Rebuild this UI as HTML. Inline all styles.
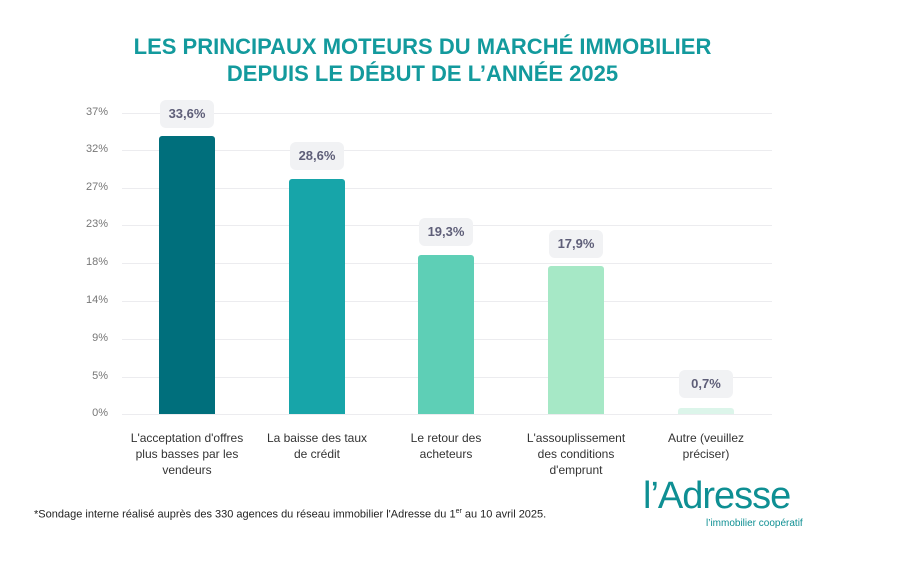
<!DOCTYPE html>
<html><head><meta charset="utf-8"><style>
body{margin:0;width:901px;height:571px;background:#fff;position:relative;font-family:"Liberation Sans",sans-serif;overflow:hidden}
.t{position:absolute;left:0;width:845px;text-align:center;color:#139a9d;font-weight:bold;font-size:22px;line-height:27px}
.g{position:absolute;left:122px;width:650px;height:1px;background:#ececef}
.y{position:absolute;left:80px;width:28px;text-align:right;font-size:11px;color:#777;}
.b{position:absolute;width:56px;border-radius:3px 3px 0 0}
.l{position:absolute;width:54px;height:28px;background:#f1f2f4;border-radius:6px;font-size:13px;font-weight:bold;color:#5e5e78;text-align:center;line-height:28px}
.x{position:absolute;width:130px;text-align:center;font-size:12px;color:#333;line-height:16px}
</style></head><body>
<div class="t" style="top:33px">LES PRINCIPAUX MOTEURS DU MARCHÉ IMMOBILIER</div>
<div class="t" style="top:60px">DEPUIS LE DÉBUT DE L’ANNÉE 2025</div>

<div class="g" style="top:113px"></div><div class="y" style="top:106px">37%</div>
<div class="g" style="top:150px"></div><div class="y" style="top:143px">32%</div>
<div class="g" style="top:188px"></div><div class="y" style="top:181px">27%</div>
<div class="g" style="top:225px"></div><div class="y" style="top:218px">23%</div>
<div class="g" style="top:263px"></div><div class="y" style="top:256px">18%</div>
<div class="g" style="top:301px"></div><div class="y" style="top:294px">14%</div>
<div class="g" style="top:339px"></div><div class="y" style="top:332px">9%</div>
<div class="g" style="top:377px"></div><div class="y" style="top:370px">5%</div>
<div class="g" style="top:414px"></div><div class="y" style="top:407px">0%</div>

<div class="b" style="left:159px;top:136px;height:278px;background:#006f7c"></div>
<div class="b" style="left:289px;top:179px;height:235px;background:#17a5a9"></div>
<div class="b" style="left:418px;top:255px;height:159px;background:#5ecfb6"></div>
<div class="b" style="left:548px;top:266px;height:148px;background:#a6e8c6"></div>
<div class="b" style="left:678px;top:408px;height:6px;background:#dcf5ea"></div>

<div class="l" style="left:160px;top:100px">33,6%</div>
<div class="l" style="left:290px;top:142px">28,6%</div>
<div class="l" style="left:419px;top:218px">19,3%</div>
<div class="l" style="left:549px;top:230px">17,9%</div>
<div class="l" style="left:679px;top:370px">0,7%</div>

<div class="x" style="left:122px;top:430px">L'acceptation d'offres<br>plus basses par les<br>vendeurs</div>
<div class="x" style="left:252px;top:430px">La baisse des taux<br>de crédit</div>
<div class="x" style="left:381px;top:430px">Le retour des<br>acheteurs</div>
<div class="x" style="left:511px;top:430px">L'assouplissement<br>des conditions<br>d'emprunt</div>
<div class="x" style="left:641px;top:430px">Autre (veuillez<br>préciser)</div>

<div style="position:absolute;left:34px;top:508px;font-size:11px;color:#222">*Sondage interne réalisé auprès des 330 agences du réseau immobilier l'Adresse du 1<sup style="font-size:7px">er</sup> au 10 avril 2025.</div>
<div style="position:absolute;left:643px;top:476px;font-size:38px;color:#0e8f93;letter-spacing:-1px;line-height:40px">l’Adresse</div>
<div style="position:absolute;left:706px;top:518px;font-size:10px;color:#0e8f93">l’immobilier coopératif</div>
</body></html>
